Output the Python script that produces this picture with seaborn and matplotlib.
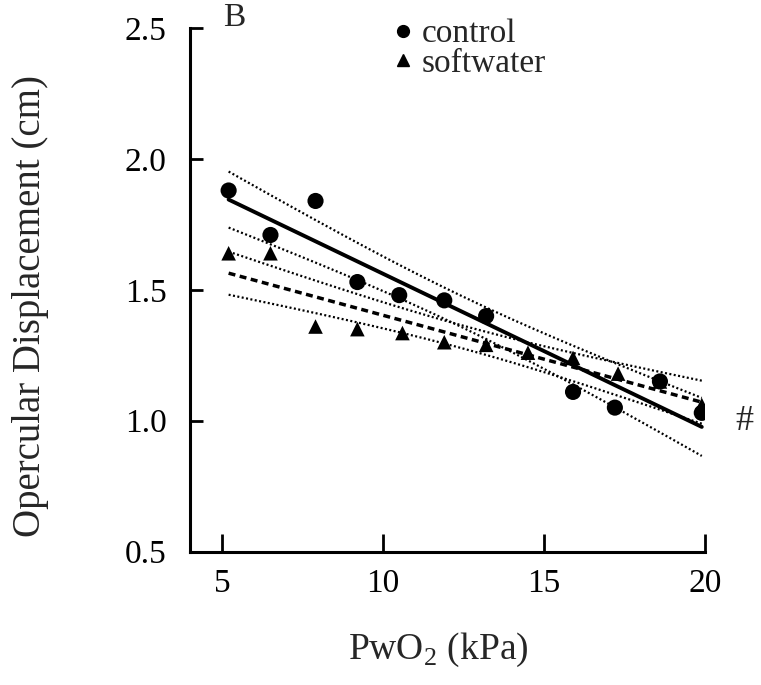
import numpy as np
import pandas as pd
import matplotlib
matplotlib.use("Agg")
import matplotlib.pyplot as plt
from matplotlib.lines import Line2D
import seaborn as sns

# ---- data ----
control_x = [5.2, 6.5, 7.9, 9.2, 10.5, 11.9, 13.2, 15.9, 17.2, 18.6, 19.9]
control_y = [1.88, 1.71, 1.84, 1.53, 1.48, 1.46, 1.40, 1.11, 1.05, 1.15, 1.03]
soft_x = [5.2, 6.5, 7.9, 9.2, 10.6, 11.9, 13.2, 14.5, 15.9, 17.3, 18.6, 19.9]
soft_y = [1.64, 1.64, 1.36, 1.35, 1.335, 1.30, 1.29, 1.26, 1.24, 1.18, 1.15, 1.06]
x_ticks = [5, 10, 15, 20]
y_ticks = [0.5, 1.0, 1.5, 2.0, 2.5]
legend_labels = ['control', 'softwater']

sns.set_theme(style="ticks")
plt.rcParams['font.family'] = ['Liberation Serif', 'DejaVu Serif']
plt.rcParams['mathtext.fontset'] = 'custom'
plt.rcParams['mathtext.rm'] = 'Liberation Serif'

W, H = 761, 685
fig = plt.figure(figsize=(W / 100, H / 100), dpi=100)
ax = fig.add_axes([190 / W, 1 - 551.5 / H, (705 - 190) / W, (551.5 - 28.3) / H])

FS_TICK = 24
FS_LABEL = 28
FS_LEG = 24


def fit_band(x, y, n_pts=60):
    x = np.asarray(x, float)
    y = np.asarray(y, float)
    n = len(x)
    b, a = np.polyfit(x, y, 1)
    xs = np.linspace(x.min(), x.max(), n_pts)
    fit = a + b * xs
    resid = y - (a + b * x)
    s = np.sqrt(np.sum(resid ** 2) / (n - 2))
    sxx = np.sum((x - x.mean()) ** 2)
    tval = {9: 2.262, 10: 2.228}[n - 2]
    half = tval * s * np.sqrt(1.0 / n + (xs - x.mean()) ** 2 / sxx)
    return xs, fit, fit - half, fit + half


for xs_, ys_, ls in [(control_x, control_y, 'solid'), (soft_x, soft_y, 'dashed')]:
    xs, fit, lo, hi = fit_band(xs_, ys_)
    df = pd.DataFrame({'x': xs, 'fit': fit, 'lo': lo, 'hi': hi})
    if ls == 'solid':
        sns.lineplot(data=df, x='x', y='fit', ax=ax, color='black', lw=2.8, zorder=2)
    else:
        sns.lineplot(data=df, x='x', y='fit', ax=ax, color='black', lw=2.5,
                     zorder=2).lines[-1].set_dashes([2.0, 1.3])
    for col in ['lo', 'hi']:
        ln = sns.lineplot(data=df, x='x', y=col, ax=ax, color='black', lw=1.6, zorder=2).lines[-1]
        ln.set_dashes([0.9, 1.1])

pts = pd.DataFrame({
    'x': control_x + soft_x,
    'y': control_y + soft_y,
    'group': ['control'] * len(control_x) + ['softwater'] * len(soft_x),
})
sns.scatterplot(data=pts[pts.group == 'softwater'], x='x', y='y', marker='^', s=110,
                color='black', edgecolor='none', ax=ax, zorder=3, legend=False)
sns.scatterplot(data=pts[pts.group == 'control'], x='x', y='y', marker='o', s=135,
                color='black', edgecolor='none', ax=ax, zorder=4, legend=False)

ax.set_xlim(4.0, 20)
ax.set_ylim(0.5, 2.5)
ax.set_xticks(x_ticks)
ax.set_yticks(y_ticks)
ax.set_yticklabels([f"{v:.1f}" for v in y_ticks])
ax.tick_params(axis='x', direction='in', length=13, width=2, labelsize=FS_TICK, pad=12, colors='black')
ax.tick_params(axis='y', direction='in', length=9.5, width=2, labelsize=FS_TICK, pad=17, colors='black')
for sp in ['top', 'right']:
    ax.spines[sp].set_visible(False)
for sp in ['left', 'bottom']:
    ax.spines[sp].set_linewidth(2.2)
    ax.spines[sp].set_color('black')

ax.set_xlabel('PwO$_2$ (kPa)', fontsize=FS_LABEL - 1, va='center')
ax.xaxis.set_label_coords((438 - 190) / 515, (551.5 - 650) / 523.2)
ax.set_ylabel('Opercular Displacement (cm)', fontsize=FS_LABEL, va='center')
ax.yaxis.set_label_coords((31 - 190) / 515, (551.5 - 306) / 523.2)

# legend
handles = [Line2D([], [], marker='o', ls='none', color='black', markersize=8.5),
           Line2D([], [], marker='^', ls='none', color='black', markersize=8)]
ax.legend(handles, legend_labels, loc='upper left',
          bbox_to_anchor=(390 / W, 1 - 19 / H), bbox_transform=fig.transFigure,
          frameon=False, fontsize=FS_LEG, handletextpad=0.15, labelspacing=-0.03,
          handlelength=0.8, borderaxespad=0, borderpad=0)

fig.text(234 / W, 1 - 18 / H, 'B', fontsize=24, ha='center', va='center')
fig.text(744 / W, 1 - 421 / H, '#', fontsize=26, ha='center', va='center')

fig.savefig('out.png', dpi=100)
